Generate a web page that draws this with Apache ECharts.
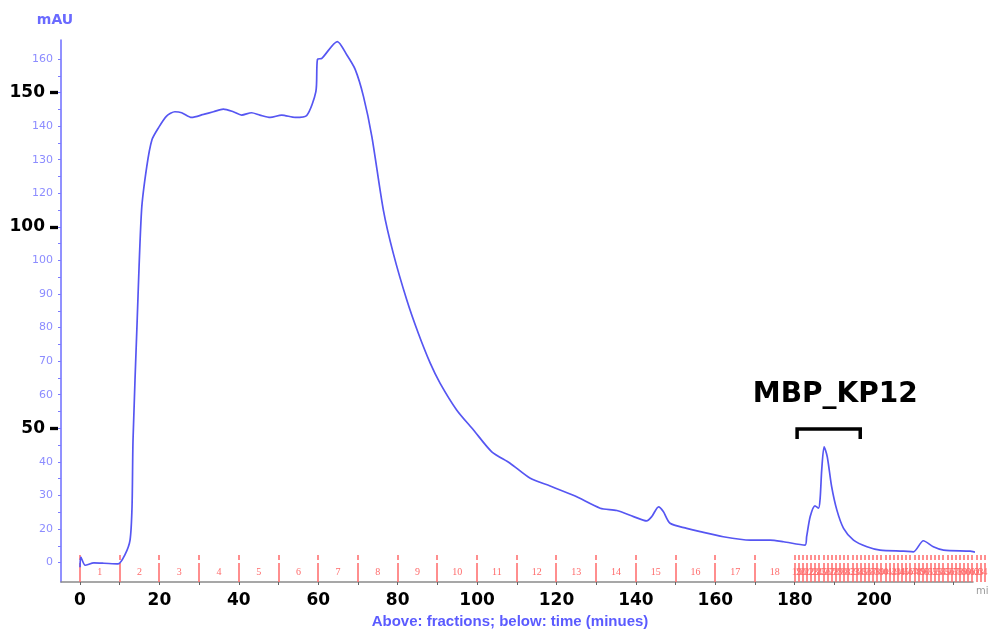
<!DOCTYPE html>
<html><head><meta charset="utf-8">
<script src="https://cdn.jsdelivr.net/npm/echarts@6/dist/echarts.min.js"></script>
<style>html,body{margin:0;padding:0;background:#fff}#c{width:989px;height:634px}</style>
</head><body><div id="c"></div>
<script>
// ---- data ----
const timeMin = [0,0.2,1.3,3.5,6.0,9.6,11.3,12.6,13.1,13.35,14.4,15.5,16.8,18.1,19.7,21.8,23.9,25.6,28.1,31.1,33.6,36.1,38.6,40.7,43.2,45.3,47.9,50.8,54.2,57.1,59.4,59.8,60.9,64.8,67.2,69.3,71.4,73.5,76.4,78.9,82.3,85.2,88.2,90.7,94.9,99.1,103.7,108.3,113.4,118.4,124.7,131.0,135.2,139.4,142.7,144.0,145.7,146.9,148.6,152.8,156.2,162.0,168.8,173.8,177.2,182.6,183.0,183.9,185.1,186.0,186.4,186.8,187.4,188.2,189.3,190.6,192.3,194.8,198.2,201.5,207.4,209.9,212.4,214.9,217.5,224.2,225.4];
const absorbance = [8.6,11.6,9.2,9.9,9.8,9.6,12.3,16.7,26.6,46.5,82.3,115.0,127.9,135.9,139.4,143.0,144.3,144.0,142.6,143.5,144.3,145.1,144.3,143.3,144.0,143.3,142.6,143.3,142.6,143.2,150.3,159.9,160.2,165.2,161.2,156.9,148.8,136.9,115.0,102.1,88.2,78.3,69.4,63.4,55.4,49.5,43.0,39.6,35.1,32.8,29.8,26.2,25.5,23.7,22.4,23.7,26.6,25.2,21.7,20.2,19.2,17.7,16.7,16.7,16.2,15.2,17.7,23.7,26.9,26.2,29.1,37.6,44.5,41.5,32.6,25.7,20.2,16.7,14.7,13.7,13.4,13.2,16.5,14.7,13.7,13.4,13.1];

const timeTickLabels = [0,20,40,60,80,100,120,140,160,180,200];
const timeTicks = [0,10,20,30,40,50,60,70,80,90,100,110,120,130,140,150,160,170,180,190,200,210,220];
const mauTickValues = [10,20,30,40,60,70,80,90,100,120,130,140,160];
const mauTickTexts  = ['0','20','30','40','60','70','80','90','100','120','130','140','160'];
const mauTicks = [10,15,20,25,30,35,40,45,50,55,60,65,70,75,80,85,90,95,100,105,110,115,120,125,130,135,140,145,150,155,160];
const boldMarkValues = [50,110,150];
const boldMarkTexts = ['50','100','150'];

const fractionBounds = [0,10,20,30,40,50,60,70,80,90,100,110,120,130,140,150,160,170,180,
  181.0,182.1,183.1,184.2,185.2,186.2,187.3,188.3,189.4,190.4,191.4,192.5,193.5,194.6,195.6,196.6,197.7,198.7,199.8,200.8,201.8,202.9,203.9,205.0,206.0,207.0,208.1,209.1,210.2,211.2,212.2,213.3,214.3,215.4,216.4,217.4,218.5,219.5,220.6,221.6,222.6,223.7,224.7,225.8,226.8,227.8];
const fractionLabels = ['1','2','3','4','5','6','7','8','9','10','11','12','13','14','15','16','17','18',
  '19','20','21','22','23','24','25','26','27','28','29','30','31','32','33','34','35','36','37','38','39','40','41','42','43','44','45','46','47','48','49','50','51','52','53','54','55','56','57','58','59','60','61','62','63','64'];

const peakName = 'MBP_KP12';
const peakRange = [180.6, 196.5];
const bracketLevel = 49.8;
const peakNamePos = [190.2, 59.9];

// ---- chart ----
const chart = echarts.init(document.getElementById('c'), null, {renderer:'canvas'});
const fracCenters = [];
for (let i = 0; i < fractionBounds.length - 1; i++) {
  fracCenters.push({value:[(fractionBounds[i] + fractionBounds[i+1]) / 2, 0]});
}
const mauLabelMap = {};
mauTickValues.forEach((v,i)=>{ mauLabelMap[v] = mauTickTexts[i]; });
const boldLabelMap = {};
boldMarkValues.forEach((v,i)=>{ boldLabelMap[v] = boldMarkTexts[i]; });

const red = '#ff6a6a';
const yMin = 4.21, yMax = 165.67;

chart.setOption({
  animation: false,
  backgroundColor: '#fff',
  grid: {left: 61, right: 16, top: 40, bottom: 52, containLabel: false, outerBoundsMode: 'none'},
  xAxis: {
    type: 'value', min: -4.79, max: 224.9,
    name: 'min', nameLocation: 'end', nameGap: 3,
    nameTextStyle: {color:'#999', fontSize: 10, fontFamily:'DejaVu Sans', align:'left', verticalAlign:'top', padding:[4,0,0,0]},
    axisLine: {show: true, onZero: false, lineStyle: {color: '#8a8a8a', width: 1.5}},
    axisTick: {show: true, customValues: timeTicks, length: 3, inside: false, lineStyle: {color: '#666', width: 1}},
    axisLabel: {show: true, customValues: timeTickLabels, margin: 10, color: '#000', fontSize: 17, fontWeight: 'bold', fontFamily: 'DejaVu Sans'},
    splitLine: {show: false}
  },
  yAxis: [{
    type: 'value', min: yMin, max: yMax, position: 'left', offset: 0,
    name: 'mAU', nameLocation: 'end', nameGap: 13,
    nameTextStyle: {color: '#6a6aff', fontSize: 14, fontWeight: 'bold', fontFamily: 'DejaVu Sans', padding: [0, 12, 0, 0]},
    axisLine: {show: true, onZero: false, lineStyle: {color: '#6c6cff', width: 1.5}},
    axisTick: {show: true, customValues: mauTicks, length: 3, lineStyle: {color: '#7a7aff', width: 1}},
    axisLabel: {show: true, customValues: mauTickValues, margin: 8, color: '#8c8cff', fontSize: 11, fontFamily: 'DejaVu Sans',
      formatter: v => (mauLabelMap[v] !== undefined ? mauLabelMap[v] : '')},
    splitLine: {show: false}
  }, {
    type: 'value', min: yMin, max: yMax, position: 'left', offset: 3,
    axisLine: {show: false, onZero: false},
    axisTick: {show: true, customValues: boldMarkValues, length: 8, lineStyle: {color: '#000', width: 3.3}},
    axisLabel: {show: true, customValues: boldMarkValues, margin: 13, color: '#000', fontSize: 17, fontWeight: 'bold', fontFamily: 'DejaVu Sans',
      formatter: v => (boldLabelMap[v] !== undefined ? boldLabelMap[v] : '')},
    splitLine: {show: false}
  }],
  graphic: [{
    type: 'text', x: 510, y: 622,
    style: {text: 'Above: fractions; below: time (minues)', fill: '#5b5bff', font: 'bold 15px "Liberation Sans", Arial, sans-serif', textAlign: 'center', textVerticalAlign: 'middle'}
  }],
  series: [{
    type: 'custom', name: 'fractionMarks', clip: false, silent: true, z: 1,
    data: fractionBounds.map(t => [t, 0]),
    renderItem: function (params, api) {
      const x = Math.round(api.coord([api.value(0), 0])[0]);
      const b = params.coordSys.y + params.coordSys.height;
      return {type: 'line', shape: {x1: x, y1: b - 27, x2: x, y2: b},
        style: {stroke: red, lineWidth: 1.5, lineDash: [5, 3, 19, 10], fill: null}};
    }
  }, {
    type: 'custom', name: 'fractionLabels', clip: false, silent: true, z: 1,
    data: fracCenters,
    renderItem: function (params, api) {
      const x = api.coord([api.value(0), 0])[0];
      const b = params.coordSys.y + params.coordSys.height;
      return {type: 'text', x: x, y: b - 10,
        style: {text: fractionLabels[params.dataIndex], fill: red, font: '10px "Liberation Serif", "Times New Roman", serif', textAlign: 'center', textVerticalAlign: 'middle'}};
    }
  }, {
    type: 'line', name: 'A280', z: 3,
    data: timeMin.map((t, i) => [t, absorbance[i]]),
    showSymbol: false, symbol: 'none', smooth: 0.25,
    lineStyle: {color: '#5656f2', width: 1.7}
  }, {
    type: 'custom', name: 'peakBracket', clip: false, silent: true, z: 4,
    data: [[peakRange[0], peakRange[1], bracketLevel]],
    renderItem: function (params, api) {
      const p1 = api.coord([api.value(0), api.value(2)]);
      const p2 = api.coord([api.value(1), api.value(2)]);
      const tp = api.coord(peakNamePos);
      return {type: 'group', children: [
        {type: 'polyline', shape: {points: [[p1[0], p1[1] + 10], [p1[0], p1[1]], [p2[0], p2[1]], [p2[0], p2[1] + 10]]},
          style: {stroke: '#000', lineWidth: 3.5, fill: null, lineJoin: 'miter'}},
        {type: 'text', x: tp[0], y: tp[1],
          style: {text: peakName, fill: '#000', font: 'bold 28px "DejaVu Sans", sans-serif', textAlign: 'center', textVerticalAlign: 'middle'}}
      ]};
    }
  }]
});
</script></body></html>
